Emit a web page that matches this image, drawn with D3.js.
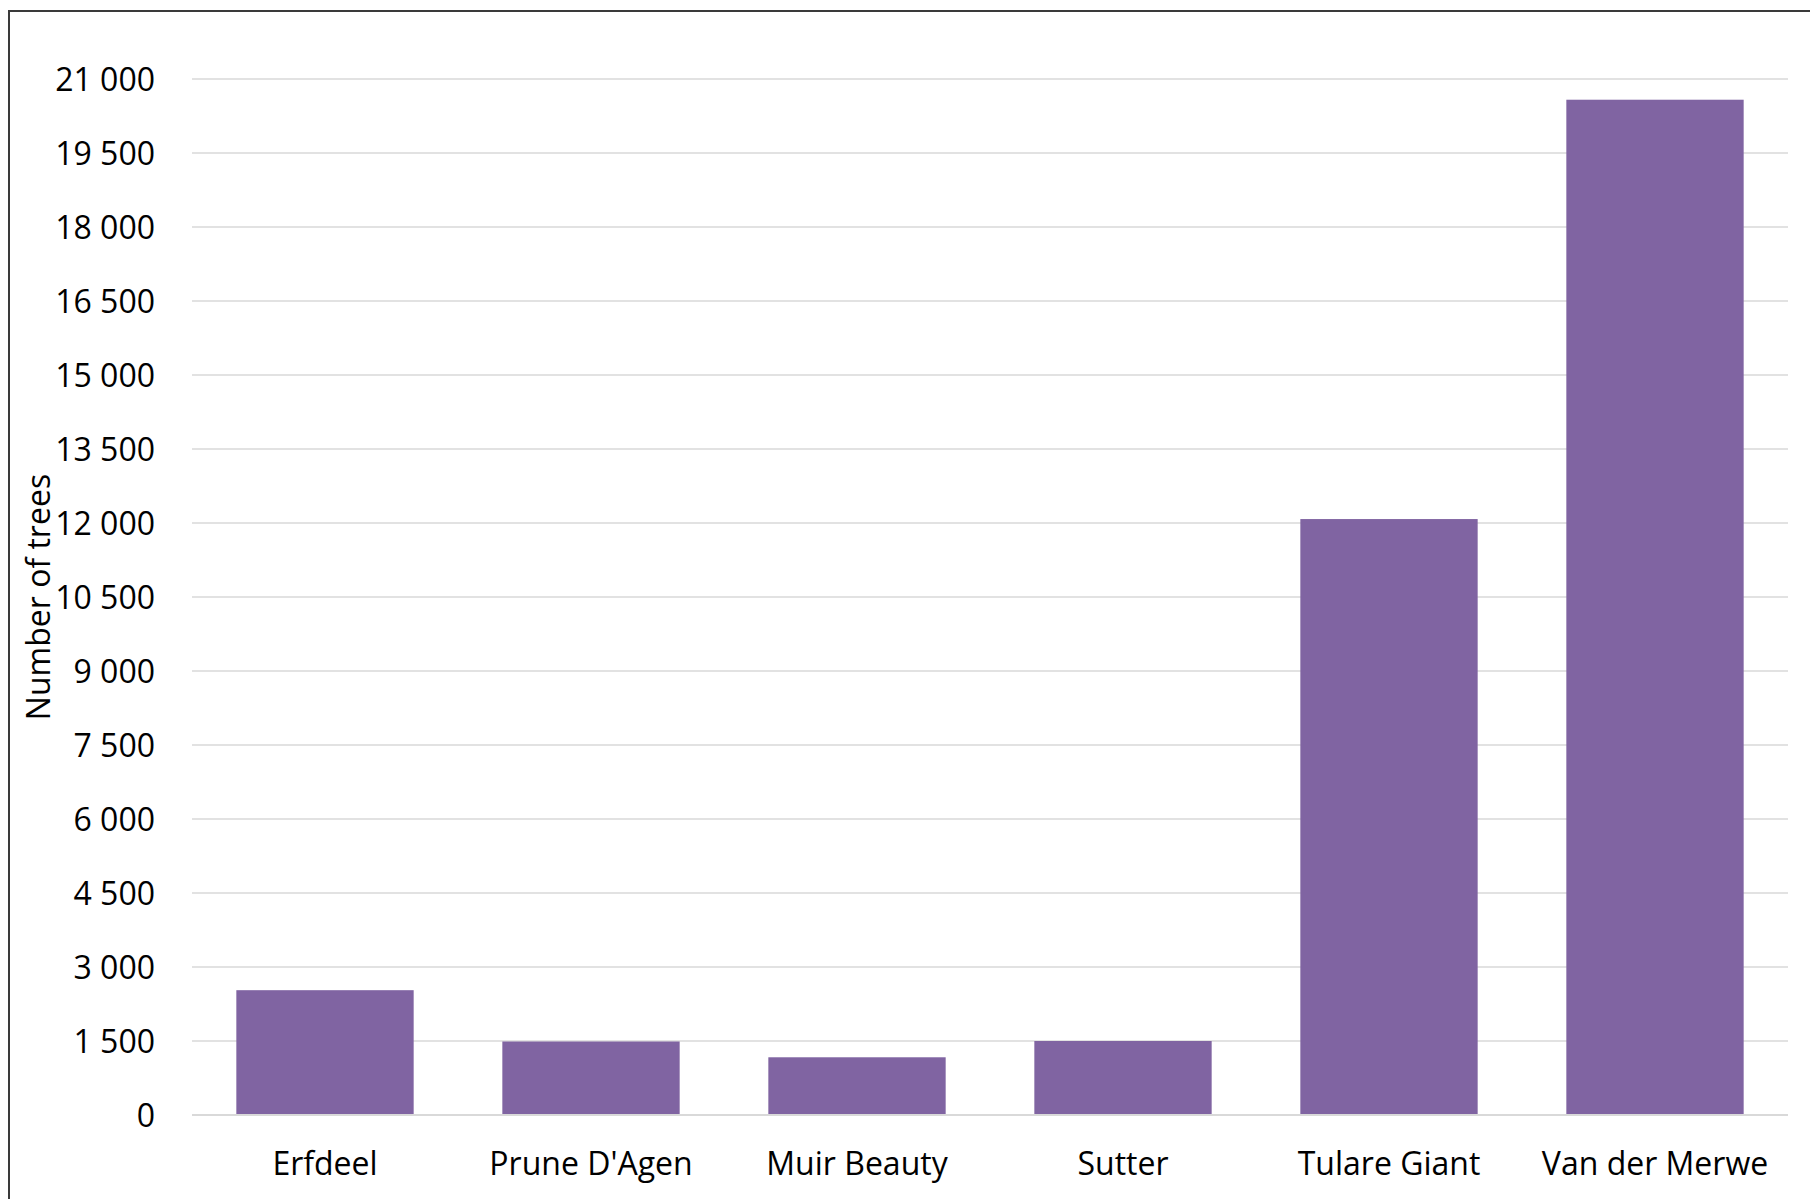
<!DOCTYPE html>
<html>
<head>
<meta charset="utf-8">
<script src="https://cdn.jsdelivr.net/npm/d3@7"></script>
<style>
  html, body { margin: 0; padding: 0; background: #fff; overflow: hidden; }
  .chart text { font-family: "Open Sans", "Noto Sans", sans-serif; font-size: 32px; fill: #000; }
  .grid line { stroke: #d9d9d9; stroke-width: 1.5; }
</style>
</head>
<body>
<svg class="chart" width="1810" height="1199"></svg>
<script>
// values
var categories = ["Erfdeel", "Prune D'Agen", "Muir Beauty", "Sutter", "Tulare Giant", "Van der Merwe"];
var trees = [2530, 1490, 1170, 1500, 12080, 20580];
var yTicks = [0, 1500, 3000, 4500, 6000, 7500, 9000, 10500, 12000, 13500, 15000, 16500, 18000, 19500, 21000];

var data = categories.map(function(c, i) { return {variety: c, trees: trees[i]}; });

var chart = d3.select(".chart"),
    plotLeft = 192, plotRight = 1788, plotTop = 79, plotBottom = 1115;

// outer chart border (runs off the right and bottom of the page)
chart.append("rect")
    .attr("x", 9).attr("y", 11)
    .attr("width", 1900).attr("height", 1300)
    .attr("fill", "none")
    .attr("stroke", "#3a3a3a")
    .attr("stroke-width", 2);

var x = d3.scaleBand().domain(categories).range([plotLeft, plotRight])
    .paddingInner(1 / 3).paddingOuter(1 / 6);
var y = d3.scaleLinear().domain([0, 21000]).range([plotBottom, plotTop]);

var fmt = function(d) { return d3.format(",")(d).replace(/,/g, " "); };

// gridlines
chart.append("g")
    .attr("class", "grid")
  .selectAll("line")
  .data(yTicks.filter(function(d) { return d > 0; }))
  .enter().append("line")
    .attr("x1", plotLeft).attr("x2", plotRight)
    .attr("y1", function(d) { return y(d); })
    .attr("y2", function(d) { return y(d); });

// y axis labels
chart.append("g")
    .attr("transform", "translate(" + plotLeft + ",0)")
    .call(d3.axisLeft(y).tickValues(yTicks).tickFormat(fmt).tickSize(0).tickPadding(37))
    .call(function(g) { g.select(".domain").remove(); })
    .selectAll("text")
    .attr("dy", "0.36em");

// bars
chart.selectAll(".bar")
    .data(data)
  .enter().append("rect")
    .attr("class", "bar")
    .attr("x", function(d) { return x(d.variety); })
    .attr("y", function(d) { return y(d.trees); })
    .attr("width", x.bandwidth())
    .attr("height", function(d) { return y(0) - y(d.trees); })
    .style("fill", "#8064a2");

// x axis
var xAxis = chart.append("g")
    .attr("transform", "translate(0," + plotBottom + ")")
    .call(d3.axisBottom(x).tickSize(0).tickPadding(37));
xAxis.select(".domain").remove();
xAxis.selectAll("text").attr("dy", "0.71em");

chart.append("line")
    .attr("x1", plotLeft).attr("x2", plotRight)
    .attr("y1", plotBottom).attr("y2", plotBottom)
    .attr("stroke", "#d9d9d9")
    .attr("stroke-width", 2.2);

// y axis title
chart.append("text")
    .attr("transform", "translate(50," + (plotTop + plotBottom) / 2 + ") rotate(-90)")
    .attr("text-anchor", "middle")
    .text("Number of trees");
</script>
</body>
</html>
